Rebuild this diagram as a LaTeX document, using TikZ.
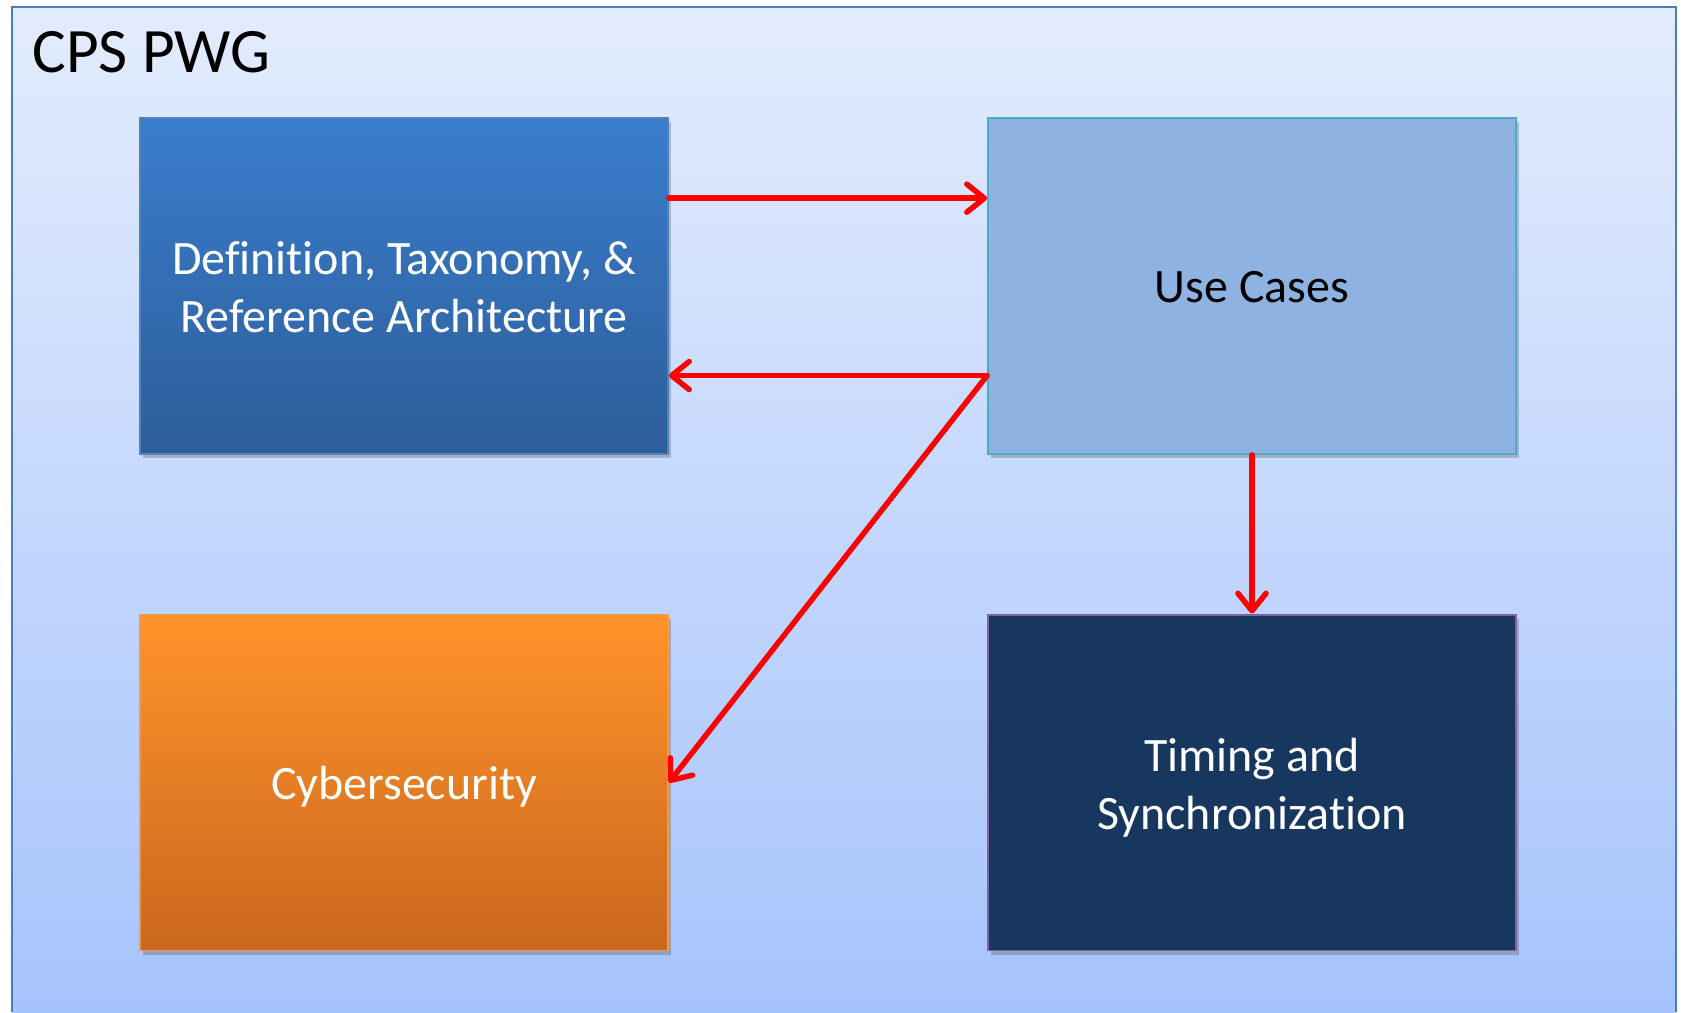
\documentclass[tikz,border=0pt]{standalone}
\usepackage{fontspec}
\setmainfont[Ligatures=NoCommon]{Carlito}
\usetikzlibrary{calc}
\usetikzlibrary{arrows.meta}
\usetikzlibrary{shadows}
\setlength{\tabcolsep}{0pt}
\definecolor{frameTop}{HTML}{E3ECFD}
\definecolor{frameBot}{HTML}{A6C4FC}
\definecolor{frameLine}{HTML}{4A7EBB}
\definecolor{defTop}{HTML}{3B7DCD}
\definecolor{defBot}{HTML}{2C5E99}
\definecolor{defLine}{HTML}{4F81BD}
\definecolor{ucFill}{HTML}{8EB3E3}
\definecolor{ucLine}{HTML}{4BACC6}
\definecolor{cyTop}{HTML}{FF932A}
\definecolor{cyBot}{HTML}{CB671E}
\definecolor{cyLine}{HTML}{F79646}
\definecolor{tsFill}{HTML}{17375E}
\definecolor{tsLine}{HTML}{8064A2}
\newcommand{\boxtext}[2]{\raisebox{-#1}[\height][\depth]{\begin{tabular}{c}#2\end{tabular}}}
\tikzset{
  box/.style={draw, line width=1.1pt, minimum width=10.56cm, minimum height=6.72cm,
    font=\fontsize{27.3}{33}\selectfont,
    drop shadow={shadow xshift=1.5pt, shadow yshift=-2.5pt, opacity=0.3, fill=black!70}},
  flow/.style={draw=red, line width=3.1pt, line cap=round, line join=round,
    -{Straight Barb[length=10pt,width=16pt,round]}}
}

\begin{document}
\begin{tikzpicture}[x=0.02cm, y=-0.02cm]
    \useasboundingbox (0,0) rectangle (1681,1012);
    % group frame
    \shade[top color=frameTop, bottom color=frameBot] (12,7) rectangle (1676,1012);
    \draw[frameLine, line width=1.2pt] (12,1012) -- (12,7) -- (1676,7) -- (1676,1012);
    \node[anchor=base west, inner sep=0pt, font=\fontsize{36}{43}\selectfont] (title) at (32,72) {CPS PWG};

    % work groups
    \node[box, draw=defLine, top color=defTop, bottom color=defBot, text=white] (def) at (404,286) {\boxtext{3.6pt}{Definition, Taxonomy, \&\\Reference Architecture}};
    \node[box, draw=ucLine, fill=ucFill] (uc) at (1252,286) {\boxtext{3pt}{Use Cases}};
    \node[box, draw=cyLine, top color=cyTop, bottom color=cyBot, text=white] (cyber) at (404,782.5) {\boxtext{3pt}{Cybersecurity}};
    \node[box, draw=tsLine, fill=tsFill, text=white] (timing) at (1252,782.5) {\boxtext{3.6pt}{Timing and\\Synchronization}};

    % links
    \coordinate (defout) at ($(def.north east)!0.24!(def.south east)$);
    \coordinate (ucout) at ($(uc.north west)!0.765!(uc.south west)$);
    \draw[flow] (defout) -- (defout -| uc.west);
    \draw[flow] (ucout) -- (ucout -| def.east);
    \draw[flow] (ucout) -- (cyber.east);
    \draw[flow] (uc.south) -- (timing.north);
\end{tikzpicture}
\end{document}
